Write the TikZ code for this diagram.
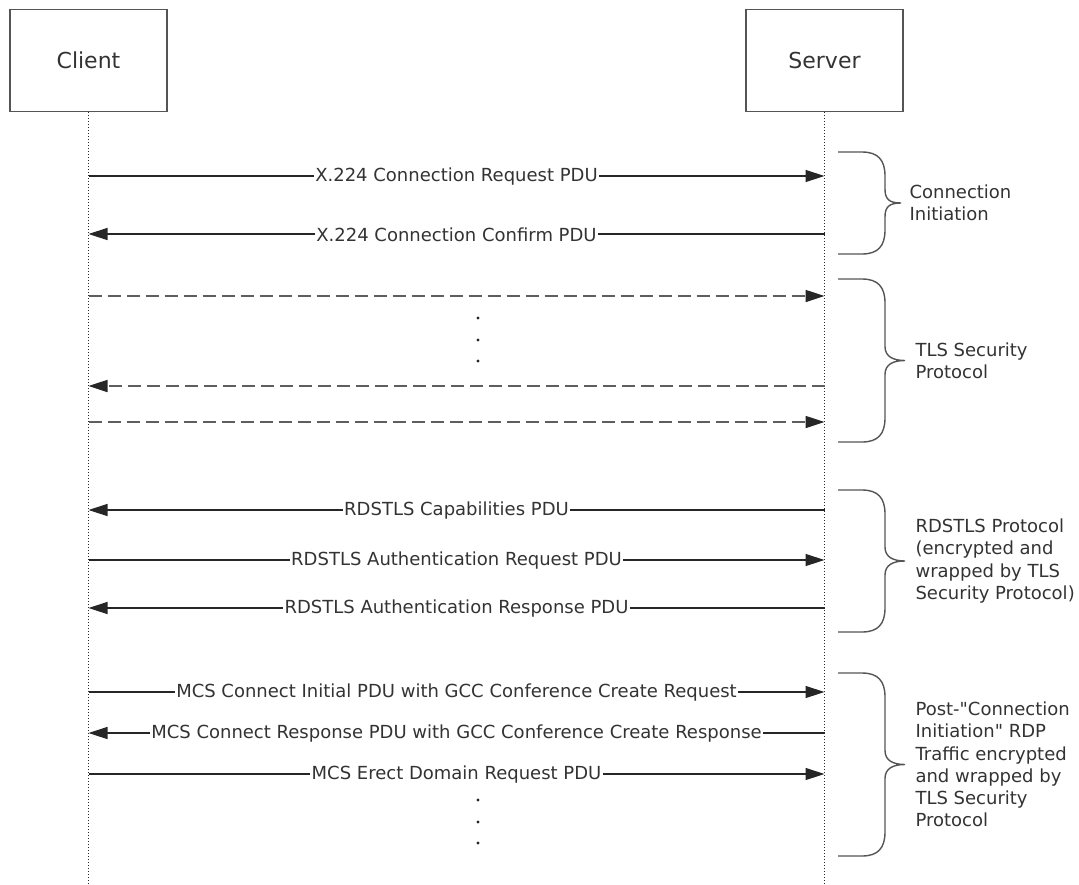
\documentclass[tikz,border=0pt]{standalone}
\usepackage{fontspec}
\setmainfont{DejaVu Sans}[Ligatures=TeXOff]
\usetikzlibrary{arrows.meta,positioning,calc}
\definecolor{ink}{HTML}{333333}
\definecolor{inkline}{HTML}{262626}
\definecolor{inkbox}{HTML}{555555}
\definecolor{inkdash}{HTML}{5E5E5E}
% curly brace on the right of the server lifeline: top, bottom, tip x
\newcommand{\curly}[3]{%
  \pgfmathsetmacro{\cm}{(#1+#2)/2}
  \draw[brc] (838,#1) -- (862,#1) .. controls (878,#1) and (885,#1+8) .. (885,#1+24)
    -- (885,\cm-14) .. controls (885,\cm-4) and (#3-12,\cm) .. (#3,\cm)
    .. controls (#3-12,\cm) and (885,\cm+4) .. (885,\cm+14)
    -- (885,#2-24) .. controls (885,#2-8) and (878,#2) .. (862,#2) -- (838,#2);}
\tikzset{
  every node/.style={text=ink},
  actor/.style={draw=inkbox, line width=1.6pt, minimum width=157pt, minimum height=102pt,
                inner sep=0pt, font=\fontsize{22}{26}\selectfont},
  life/.style={dotted, line width=1pt, color=inkline},
  msg/.style={-{Triangle[length=19pt,width=12pt]}, line width=1.4pt, color=inkline},
  tls/.style={msg, -{Triangle[length=19pt,width=12pt,color=inkline]}, color=inkdash,
              line width=1.7pt, dash pattern=on 13pt off 6pt},
  lbl/.style={fill=white, inner xsep=1.5pt, inner ysep=1pt, yshift=-1pt,
              font=\fontsize{18}{22}\selectfont},
  brc/.style={line width=1.4pt, color=inkbox},
  grp/.style={anchor=west, align=left, font=\fontsize{18}{22.3}\selectfont},
}
\begin{document}
\begin{tikzpicture}[x=1pt,y=-1pt]
  \useasboundingbox (0,0) rectangle (1079,884);
  \node[actor] (client) at (88.5,60.5) {Client};
  \node[actor] (server) at (824.5,60.5) {Server};
  \coordinate (clientend) at (88.5,884);
  \coordinate (serverend) at (824.5,884);
  \draw[life] (client.south) -- (clientend);
  \draw[life] (server.south) -- (serverend);

  % message rows on the two lifelines
  \foreach \n/\y in {1/176,2/234,3/296,4/386,5/422,6/510,7/560,8/608,9/692,10/733,11/774}{
    \coordinate (c\n) at (88.5,\y);
    \coordinate (s\n) at (824.5,\y);
  }

  % connection initiation
  \draw[msg] (c1) -- node[lbl] {X.224 Connection Request PDU} (s1);
  \draw[msg] (s2) -- node[lbl] {X.224 Connection Confirm PDU} (c2);

  % TLS handshake
  \draw[tls] (c3) -- (s3);
  \draw[tls] (s4) -- (c4);
  \draw[tls] (c5) -- (s5);
  \foreach \y in {318,340,361} \fill[inkline] (478,\y) circle (1.6);

  % RDSTLS
  \draw[msg] (s6) -- node[lbl] {RDSTLS Capabilities PDU} (c6);
  \draw[msg] (c7) -- node[lbl] {RDSTLS Authentication Request PDU} (s7);
  \draw[msg] (s8) -- node[lbl] {RDSTLS Authentication Response PDU} (c8);

  % MCS traffic
  \draw[msg] (c9) -- node[lbl] {MCS Connect Initial PDU with GCC Conference Create Request} (s9);
  \draw[msg] (s10) -- node[lbl] {MCS Connect Response PDU with GCC Conference Create Response} (c10);
  \draw[msg] (c11) -- node[lbl] {MCS Erect Domain Request PDU} (s11);
  \foreach \y in {800,822,843} \fill[inkline] (478,\y) circle (1.6);

  % phase braces
  \curly{152}{254}{901}
  \curly{279}{442}{905}
  \curly{490}{632}{905}
  \curly{673}{856}{905}
  \node[grp] (initgrp) at (906,203) {Connection\\Initiation};
  \node[grp] (tlsgrp) at (912,361) {TLS Security\\Protocol};
  \node[grp] (rdsgrp) at (912,561) {RDSTLS Protocol\\(encrypted and\\wrapped by TLS\\Security Protocol)};
  \node[grp] (mcsgrp) at (912,764.5) {Post-"Connection\\Initiation" RDP\\Traffic encrypted\\and wrapped by\\TLS Security\\Protocol};
\end{tikzpicture}
\end{document}
